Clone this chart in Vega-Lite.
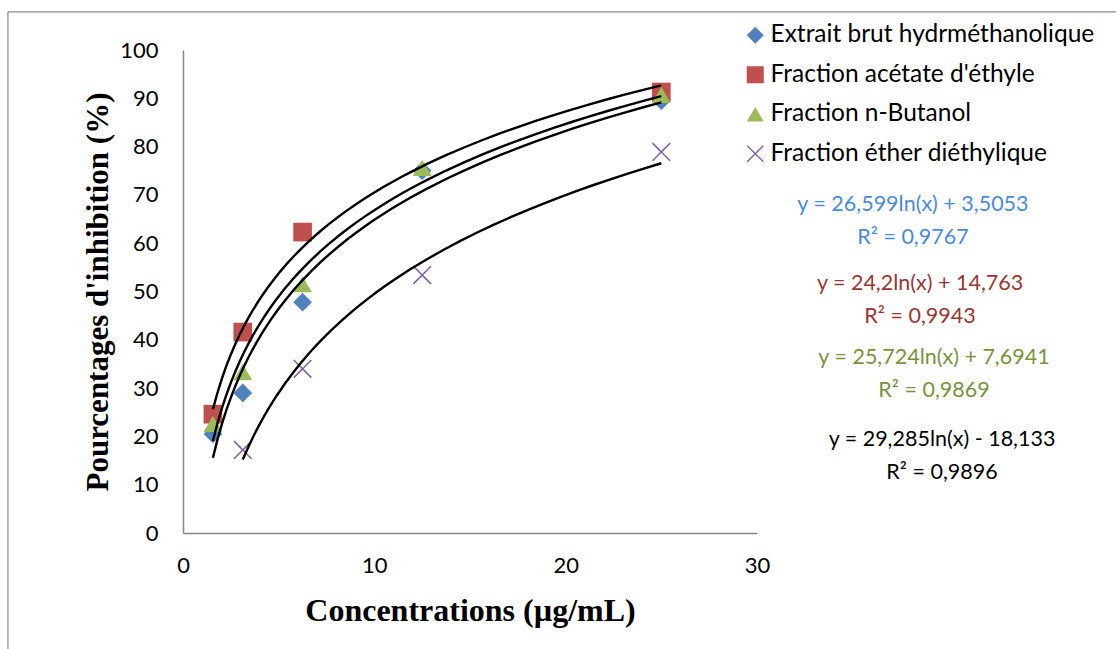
{
  "$schema": "https://vega.github.io/schema/vega-lite/v6.json",
  "width": 574,
  "height": 483,
  "autosize": "none",
  "padding": {"left": 183, "top": 50, "right": 359, "bottom": 116},
  "background": "white",
  "config": {
    "view": {"stroke": null},
    "font": "Lato"
  },
  "datasets": {
    "inhibition": [
      {"series": "Extrait brut hydrméthanolique", "conc": 1.5625, "pct": 20.5},
      {"series": "Extrait brut hydrméthanolique", "conc": 3.125, "pct": 29.0},
      {"series": "Extrait brut hydrméthanolique", "conc": 6.25, "pct": 47.8},
      {"series": "Extrait brut hydrméthanolique", "conc": 12.5, "pct": 75.0},
      {"series": "Extrait brut hydrméthanolique", "conc": 25, "pct": 89.5},
      {"series": "Fraction acétate d'éthyle", "conc": 1.5625, "pct": 24.6},
      {"series": "Fraction acétate d'éthyle", "conc": 3.125, "pct": 41.6},
      {"series": "Fraction acétate d'éthyle", "conc": 6.25, "pct": 62.3},
      {"series": "Fraction acétate d'éthyle", "conc": 25, "pct": 91.3},
      {"series": "Fraction n-Butanol", "conc": 1.5625, "pct": 22.6},
      {"series": "Fraction n-Butanol", "conc": 3.125, "pct": 33.3},
      {"series": "Fraction n-Butanol", "conc": 6.25, "pct": 51.5},
      {"series": "Fraction n-Butanol", "conc": 12.5, "pct": 75.6},
      {"series": "Fraction n-Butanol", "conc": 25, "pct": 90.7},
      {"series": "Fraction éther diéthylique", "conc": 3.125, "pct": 17.2},
      {"series": "Fraction éther diéthylique", "conc": 6.25, "pct": 34.0},
      {"series": "Fraction éther diéthylique", "conc": 12.5, "pct": 53.4},
      {"series": "Fraction éther diéthylique", "conc": 25, "pct": 78.9}
    ],
    "one": [{}]
  },
  "layer": [
    {
      "data": {"name": "one"},
      "mark": {"type": "rule", "color": "#8c8c8c", "strokeWidth": 1.2, "clip": false},
      "encoding": {
        "x": {"datum": -9.15, "type": "quantitative", "scale": {"domain": [0, 30]}},
        "x2": {"datum": 50},
        "y": {"datum": 107.9, "type": "quantitative"}
      }
    },
    {
      "data": {"name": "one"},
      "mark": {"type": "rule", "color": "#8c8c8c", "strokeWidth": 1.2, "clip": false},
      "encoding": {
        "x": {"datum": -9.15, "type": "quantitative"},
        "y": {"datum": 107.9, "type": "quantitative"},
        "y2": {"datum": -30}
      }
    },
    {
      "data": {"name": "inhibition"},
      "mark": {"type": "point", "filled": true, "opacity": 1, "size": 350, "strokeWidth": 0},
      "encoding": {
        "x": {
          "field": "conc", "type": "quantitative",
          "scale": {"domain": [0, 30], "nice": false},
          "axis": {
            "values": [0, 10, 20, 30], "title": "Concentrations (µg/mL)",
            "grid": false, "ticks": false, "domainColor": "#868686", "domainWidth": 1.5,
            "labelFont": "Lato", "labelFontSize": 22, "labelColor": "#000", "labelPadding": 22,
            "labelFlush": false,
            "titleFont": "Liberation Serif", "titleFontSize": 32, "titleFontWeight": "bold",
            "titleColor": "#000", "titlePadding": 19
          }
        },
        "y": {
          "field": "pct", "type": "quantitative",
          "scale": {"domain": [0, 100], "nice": false},
          "axis": {
            "values": [0, 10, 20, 30, 40, 50, 60, 70, 80, 90, 100],
            "title": "Pourcentages d'inhibition (%)",
            "grid": false, "ticks": false, "domainColor": "#868686", "domainWidth": 1.5,
            "labelFont": "Lato", "labelFontSize": 22, "labelColor": "#000", "labelPadding": 25,
            "titleFont": "Liberation Serif", "titleFontSize": 31, "titleFontWeight": "bold",
            "titleColor": "#000", "titlePadding": 5
          }
        },
        "color": {
          "field": "series", "type": "nominal",
          "scale": {
            "domain": ["Extrait brut hydrméthanolique", "Fraction acétate d'éthyle", "Fraction n-Butanol", "Fraction éther diéthylique"],
            "range": ["#4F81BD", "#C0504D", "#9BBB59", "#8064A2"]
          },
          "legend": {
            "title": null, "orient": "none", "legendX": 560, "legendY": -27,
            "labelFont": "Lato", "labelFontSize": 24.5, "labelColor": "#000", "labelLimit": 400,
            "symbolSize": 290, "symbolStrokeWidth": 0, "rowPadding": 14.5, "labelOffset": 3
          }
        },
        "shape": {
          "field": "series", "type": "nominal",
          "scale": {
            "domain": ["Extrait brut hydrméthanolique", "Fraction acétate d'éthyle", "Fraction n-Butanol", "Fraction éther diéthylique"],
            "range": ["diamond", "square", "triangle-up", "M-1,-0.88L-0.12,0L-1,0.88L-0.88,1L0,0.12L0.88,1L1,0.88L0.12,0L1,-0.88L0.88,-1L0,-0.12L-0.88,-1Z"]
          }
        }
      }
    },
    {
      "data": {"name": "inhibition"},
      "transform": [
        {"regression": "pct", "on": "conc", "method": "log", "groupby": ["series"]}
      ],
      "mark": {"type": "line", "color": "#000", "strokeWidth": 2.4},
      "encoding": {
        "x": {"field": "conc", "type": "quantitative"},
        "y": {"field": "pct", "type": "quantitative"},
        "detail": {"field": "series"}
      }
    },
    {
      "data": {"name": "one"},
      "mark": {"type": "text", "align": "center", "baseline": "middle", "font": "Lato", "fontSize": 21.5, "lineHeight": 33, "color": "#4A8BD6", "clip": false,
        "text": ["y = 26,599ln(x) + 3,5053", "R² = 0,9767"]},
      "encoding": {"x": {"datum": 38.15, "type": "quantitative"}, "y": {"datum": 67.9, "type": "quantitative"}}
    },
    {
      "data": {"name": "one"},
      "mark": {"type": "text", "align": "center", "baseline": "middle", "font": "Lato", "fontSize": 21.5, "lineHeight": 33, "color": "#953735", "clip": false,
        "text": ["y = 24,2ln(x) + 14,763", "R² = 0,9943"]},
      "encoding": {"x": {"datum": 38.52, "type": "quantitative"}, "y": {"datum": 51.55, "type": "quantitative"}}
    },
    {
      "data": {"name": "one"},
      "mark": {"type": "text", "align": "center", "baseline": "middle", "font": "Lato", "fontSize": 21.5, "lineHeight": 33, "color": "#77933C", "clip": false,
        "text": ["y = 25,724ln(x) + 7,6941", "R² = 0,9869"]},
      "encoding": {"x": {"datum": 39.25, "type": "quantitative"}, "y": {"datum": 36.23, "type": "quantitative"}}
    },
    {
      "data": {"name": "one"},
      "mark": {"type": "text", "align": "center", "baseline": "middle", "font": "Lato", "fontSize": 21.5, "lineHeight": 33, "color": "#000000", "clip": false,
        "text": ["y = 29,285ln(x) - 18,133", "R² = 0,9896"]},
      "encoding": {"x": {"datum": 39.67, "type": "quantitative"}, "y": {"datum": 19.25, "type": "quantitative"}}
    }
  ]
}
